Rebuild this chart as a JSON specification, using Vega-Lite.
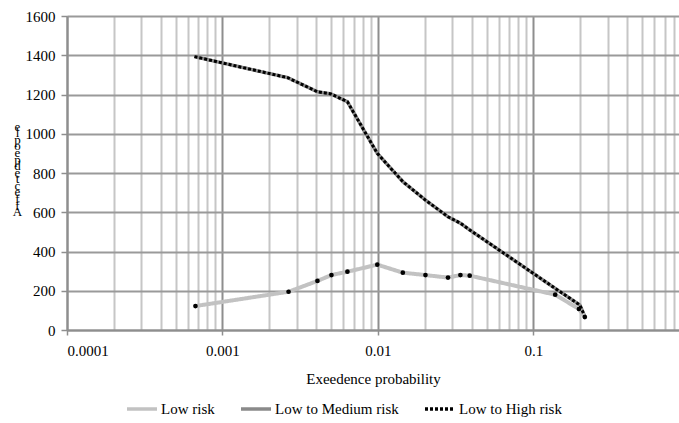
{
  "$schema": "https://vega.github.io/schema/vega-lite/v6.json",
  "width": 612,
  "height": 314,
  "autosize": {"type": "none"},
  "padding": {"left": 67, "top": 16, "right": 0, "bottom": 93},
  "background": "white",
  "config": {
    "view": {"stroke": null},
    "axis": {"labelFont": "Liberation Serif", "titleFont": "Liberation Serif", "labelColor": "#000", "titleColor": "#000", "titleFontWeight": "normal", "labelFontSize": 15, "titleFontSize": 15},
    "legend": {"labelFont": "Liberation Serif", "labelFontSize": 15, "labelColor": "#000"}
  },
  "data": {
    "values": [
      {"series": "Low risk", "p": 0.00067, "v": 122},
      {"series": "Low risk", "p": 0.00266, "v": 195},
      {"series": "Low risk", "p": 0.00408, "v": 250},
      {"series": "Low risk", "p": 0.00502, "v": 280},
      {"series": "Low risk", "p": 0.00636, "v": 297},
      {"series": "Low risk", "p": 0.0099, "v": 333},
      {"series": "Low risk", "p": 0.01445, "v": 292},
      {"series": "Low risk", "p": 0.0202, "v": 280},
      {"series": "Low risk", "p": 0.0282, "v": 267},
      {"series": "Low risk", "p": 0.0339, "v": 280},
      {"series": "Low risk", "p": 0.0389, "v": 277},
      {"series": "Low risk", "p": 0.138, "v": 180},
      {"series": "Low risk", "p": 0.196, "v": 107},
      {"series": "Low risk", "p": 0.214, "v": 66},
      {"series": "Low to Medium risk", "p": 0.00066, "v": 1393},
      {"series": "Low to Medium risk", "p": 0.00262, "v": 1286},
      {"series": "Low to Medium risk", "p": 0.00408, "v": 1214},
      {"series": "Low to Medium risk", "p": 0.00498, "v": 1203},
      {"series": "Low to Medium risk", "p": 0.00636, "v": 1163},
      {"series": "Low to Medium risk", "p": 0.0099, "v": 900},
      {"series": "Low to Medium risk", "p": 0.01445, "v": 756},
      {"series": "Low to Medium risk", "p": 0.0202, "v": 662},
      {"series": "Low to Medium risk", "p": 0.0282, "v": 577},
      {"series": "Low to Medium risk", "p": 0.0339, "v": 544},
      {"series": "Low to Medium risk", "p": 0.0389, "v": 510},
      {"series": "Low to Medium risk", "p": 0.138, "v": 212},
      {"series": "Low to Medium risk", "p": 0.199, "v": 127},
      {"series": "Low to Medium risk", "p": 0.214, "v": 68},
      {"series": "Low to High risk", "p": 0.00066, "v": 1393},
      {"series": "Low to High risk", "p": 0.00262, "v": 1286},
      {"series": "Low to High risk", "p": 0.00408, "v": 1214},
      {"series": "Low to High risk", "p": 0.00498, "v": 1203},
      {"series": "Low to High risk", "p": 0.00636, "v": 1163},
      {"series": "Low to High risk", "p": 0.0099, "v": 900},
      {"series": "Low to High risk", "p": 0.01445, "v": 756},
      {"series": "Low to High risk", "p": 0.0202, "v": 662},
      {"series": "Low to High risk", "p": 0.0282, "v": 577},
      {"series": "Low to High risk", "p": 0.0339, "v": 544},
      {"series": "Low to High risk", "p": 0.0389, "v": 510},
      {"series": "Low to High risk", "p": 0.138, "v": 212},
      {"series": "Low to High risk", "p": 0.199, "v": 127},
      {"series": "Low to High risk", "p": 0.214, "v": 68}
    ]
  },
  "encoding": {
    "x": {
      "field": "p", "type": "quantitative",
      "scale": {"type": "log", "domain": [0.0001, 0.863], "nice": false},
      "axis": {
        "title": "Exeedence probability",
        "titlePadding": 13,
        "values": [0.0001,0.0002,0.0003,0.0004,0.0005,0.0006,0.0007,0.0008,0.0009,0.001,0.002,0.003,0.004,0.005,0.006,0.007,0.008,0.009,0.01,0.02,0.03,0.04,0.05,0.06,0.07,0.08,0.09,0.1,0.2,0.3,0.4,0.5,0.6,0.7,0.8],
        "labelExpr": "indexof([0.0001,0.001,0.01,0.1], datum.value) >= 0 ? toString(datum.value) : ''",
        "labelPadding": 8,
        "labelOverlap": false,
        "grid": true,
        "gridColor": {"condition": {"test": "indexof([0.0001,0.001,0.01,0.1], datum.value) >= 0", "value": "#8e8e8e"}, "value": "#c6c6c6"},
        "gridWidth": 2,
        "tickColor": {"condition": {"test": "indexof([0.0001,0.001,0.01,0.1], datum.value) >= 0", "value": "#8e8e8e"}, "value": "rgba(0,0,0,0)"},
        "tickSize": 5,
        "tickWidth": 1.5,
        "domainColor": "#8e8e8e",
        "domainWidth": 2
      }
    },
    "y": {
      "field": "v", "type": "quantitative",
      "scale": {"domain": [0, 1600], "nice": false},
      "axis": {
        "title": ["e","l","p","o","e","p"," ","d","e","t","c","e","f","f","A"],
        "titleAngle": 0,
        "titleAlign": "center",
        "titleBaseline": "top",
        "titleFontSize": 13,
        "titleLineHeight": 6.6,
        "titleX": -50,
        "titleY": 104,
        "format": "d",
        "values": [0,200,400,600,800,1000,1200,1400,1600],
        "labelPadding": 6,
        "grid": true,
        "gridColor": "#9a9a9a",
        "gridWidth": 2,
        "tickColor": "#8e8e8e",
        "tickSize": 6,
        "tickWidth": 1.5,
        "domainColor": "#8e8e8e",
        "domainWidth": 2
      }
    }
  },
  "layer": [
    {
      "transform": [{"filter": "datum.series === 'Low to Medium risk'"}],
      "mark": {"type": "line", "strokeWidth": 3.5},
      "encoding": {
        "color": {"field": "series", "type": "nominal", "sort": ["Low risk", "Low to Medium risk", "Low to High risk"],
          "scale": {"domain": ["Low risk", "Low to Medium risk", "Low to High risk"], "range": ["#c2c2c2", "#8a8a8a", "#000000"]},
          "legend": {"title": null, "orient": "none", "legendX": 58, "legendY": 376, "direction": "horizontal", "columns": 3, "symbolType": "stroke", "symbolSize": 900, "symbolStrokeWidth": 3.5, "columnPadding": 19, "labelOffset": 2, "symbolOffset": 0}},
        "strokeDash": {"field": "series", "type": "nominal",
          "scale": {"domain": ["Low risk", "Low to Medium risk", "Low to High risk"], "range": [[1,0],[1,0],[3,2]]},
          "legend": null}
      }
    },
    {
      "transform": [{"filter": "datum.series === 'Low risk'"}],
      "mark": {"type": "line", "strokeWidth": 4},
      "encoding": {
        "color": {"field": "series", "type": "nominal"},
        "strokeDash": {"field": "series", "type": "nominal"}
      }
    },
    {
      "transform": [{"filter": "datum.series === 'Low to High risk'"}],
      "mark": {"type": "line", "strokeWidth": 3},
      "encoding": {
        "color": {"field": "series", "type": "nominal"},
        "strokeDash": {"field": "series", "type": "nominal"}
      }
    },
    {
      "transform": [{"filter": "datum.series === 'Low risk'"}],
      "mark": {"type": "point", "filled": true, "shape": "circle", "size": 22, "color": "#000", "opacity": 1},
      "encoding": {}
    }
  ]
}
